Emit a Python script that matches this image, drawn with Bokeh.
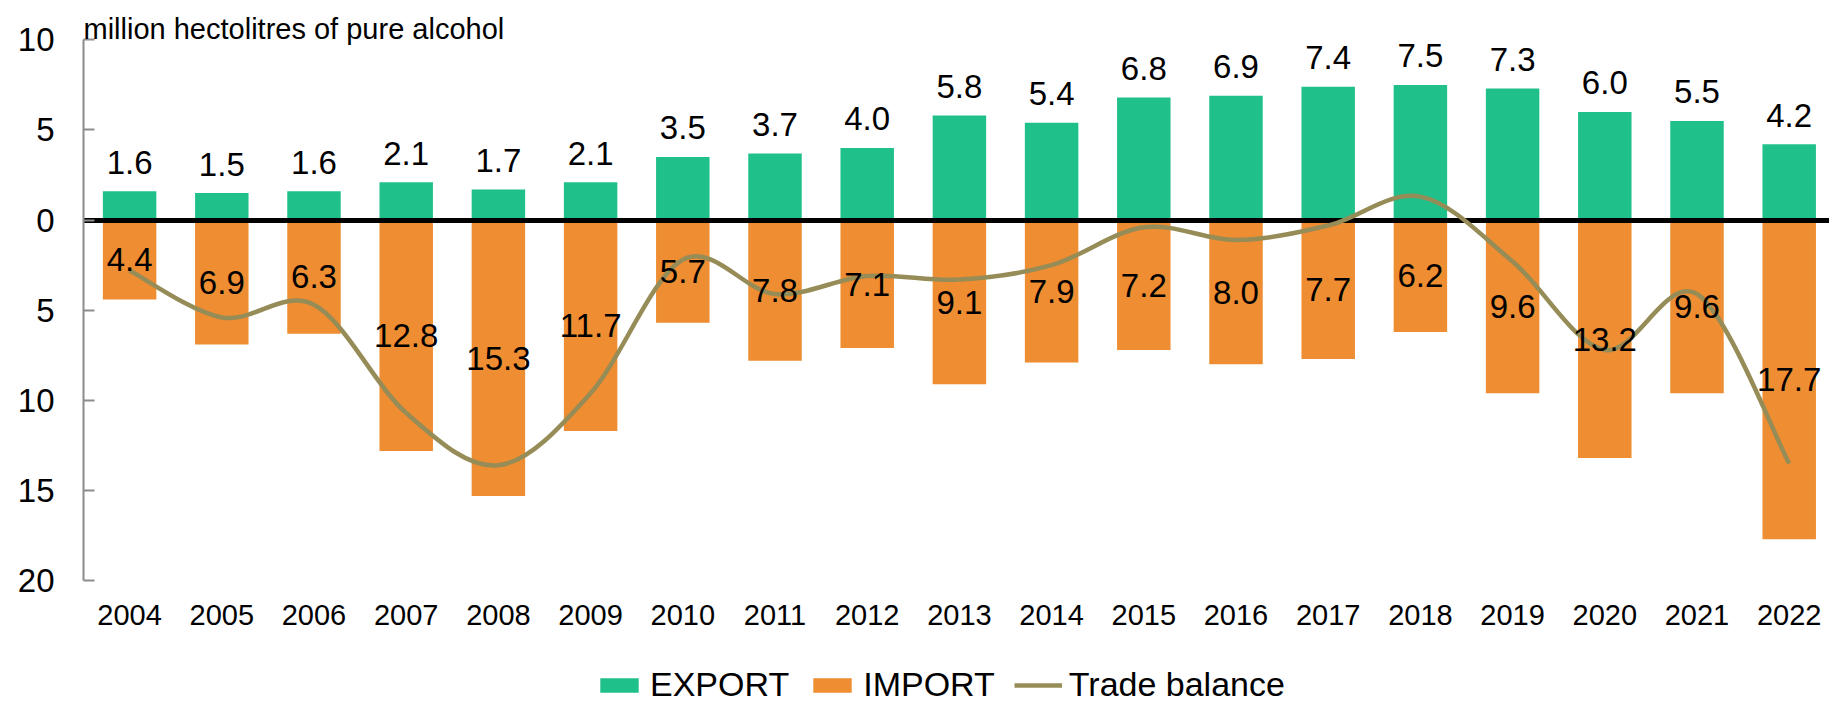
from bokeh.plotting import figure
from bokeh.models import (ColumnDataSource, FixedTicker, Legend, LegendItem, Label, Range1d)
from bokeh.core.properties import value
from bokeh.embed import file_html
from bokeh.resources import INLINE

# ---- data ----
years = [str(y) for y in range(2004, 2023)]
export = [1.6, 1.5, 1.6, 2.1, 1.7, 2.1, 3.5, 3.7, 4.0, 5.8, 5.4, 6.8, 6.9, 7.4, 7.5, 7.3, 6.0, 5.5, 4.2]
imports = [4.4, 6.9, 6.3, 12.8, 15.3, 11.7, 5.7, 7.8, 7.1, 9.1, 7.9, 7.2, 8.0, 7.7, 6.2, 9.6, 13.2, 9.6, 17.7]
y_ticks = [-20, -15, -10, -5, 0, 5, 10]
y_tick_labels = ["20", "15", "10", "5", "0", "5", "10"]
unit_label = "million hectolitres of pure alcohol"
series_names = ["EXPORT", "IMPORT", "Trade balance"]

FONT = "Liberation Sans"
GREEN = "#20C08B"
ORANGE = "#EE8D31"
OLIVE = "#968C57"

W, H = 1829, 704
LEFT = 83
PX_PER_UNIT = 18.03
Y_TOP_PX = 39.3       # pixel row of y = 10
X_STEP = 92.2         # pixels per category

x = list(range(len(years)))
balance = [round(e - i, 1) for e, i in zip(export, imports)]

src = ColumnDataSource(dict(
    x=x,
    export=export,
    neg_import=[-v for v in imports],
    half_import=[-v / 2 for v in imports],
    export_lbl=[f"{v:.1f}" for v in export],
    import_lbl=[f"{v:.1f}" for v in imports],
))

# smoothed line (Catmull-Rom style bezier segments through the data points)
n = len(x)
seg = dict(x0=[], y0=[], x1=[], y1=[], cx0=[], cy0=[], cx1=[], cy1=[])
for i in range(n - 1):
    a = max(i - 1, 0)
    d = min(i + 2, n - 1)
    seg["x0"].append(x[i]); seg["y0"].append(balance[i])
    seg["x1"].append(x[i + 1]); seg["y1"].append(balance[i + 1])
    seg["cx0"].append(x[i] + (x[i + 1] - x[a]) / 6)
    seg["cy0"].append(balance[i] + (balance[i + 1] - balance[a]) / 6)
    seg["cx1"].append(x[i + 1] - (x[d] - x[i]) / 6)
    seg["cy1"].append(balance[i + 1] - (balance[d] - balance[i]) / 6)
seg_src = ColumnDataSource(seg)

y_max = 10 + Y_TOP_PX / PX_PER_UNIT
y_min = y_max - H / PX_PER_UNIT
x_max = -0.5 + (W - LEFT) / X_STEP

p = figure(width=W, height=H,
           x_range=Range1d(-0.5, x_max), y_range=Range1d(y_min, y_max),
           output_backend="svg", toolbar_location=None,
           min_border_left=LEFT, min_border_right=0, min_border_top=0, min_border_bottom=0)
p.outline_line_color = None
p.xgrid.grid_line_color = None
p.ygrid.grid_line_color = None

r_exp = p.vbar(x="x", top="export", bottom=0, width=0.58, source=src,
               fill_color=GREEN, line_color=None)
r_imp = p.vbar(x="x", top=0, bottom="neg_import", width=0.58, source=src,
               fill_color=ORANGE, line_color=None)
p.hspan(y=[0], line_color="black", line_width=5)
r_bal = p.bezier(x0="x0", y0="y0", x1="x1", y1="y1", cx0="cx0", cy0="cy0",
                 cx1="cx1", cy1="cy1", source=seg_src, line_color=OLIVE, line_width=4.5)

p.text(x="x", y="export", text="export_lbl", source=src, y_offset=-29,
       text_align="center", text_baseline="middle",
       text_font=value(FONT), text_font_size=value("33px"), text_color="black")
p.text(x="x", y="half_import", text="import_lbl", source=src,
       text_align="center", text_baseline="middle",
       text_font=value(FONT), text_font_size=value("33px"), text_color="black")

# axes
p.yaxis.ticker = FixedTicker(ticks=y_ticks)
p.yaxis.bounds = (min(y_ticks), max(y_ticks))
p.yaxis.major_label_overrides = {t: l for t, l in zip(y_ticks, y_tick_labels)}
p.yaxis.axis_line_color = "#8C8C8C"
p.yaxis.axis_line_width = 2
p.yaxis.major_tick_line_color = "#8C8C8C"
p.yaxis.major_tick_line_width = 2
p.yaxis.major_tick_in = 11
p.yaxis.major_tick_out = 0
p.yaxis.minor_tick_line_color = None
p.yaxis.major_label_standoff = 29
p.yaxis.major_label_text_font = FONT
p.yaxis.major_label_text_font_size = "33px"
p.yaxis.major_label_text_color = "black"

p.xaxis.fixed_location = min(y_ticks)
p.xaxis.ticker = FixedTicker(ticks=x)
p.xaxis.major_label_overrides = {i: y for i, y in zip(x, years)}
p.xaxis.axis_line_color = None
p.xaxis.major_tick_line_color = None
p.xaxis.minor_tick_line_color = None
p.xaxis.major_tick_in = 0
p.xaxis.major_tick_out = 0
p.xaxis.major_label_standoff = 24
p.xaxis.major_label_text_font = FONT
p.xaxis.major_label_text_font_size = "29px"
p.xaxis.major_label_text_color = "black"

p.add_layout(Label(x=0, y=H - 28, x_units="screen", y_units="screen", text=unit_label,
                   text_font=FONT, text_font_size="29px", text_color="black",
                   text_baseline="alphabetic"))

legend = Legend(items=[LegendItem(label=series_names[0], renderers=[r_exp]),
                       LegendItem(label=series_names[1], renderers=[r_imp]),
                       LegendItem(label=series_names[2], renderers=[r_bal])],
                orientation="horizontal", location=(595 - LEFT, 0),
                glyph_width=48, glyph_height=18, label_standoff=7, spacing=19,
                padding=0, margin=0, border_line_color=None, background_fill_alpha=0,
                label_text_font=FONT, label_text_font_size="34px", label_text_color="black")
p.add_layout(legend)

open("out.html", "w").write(file_html(p, INLINE))
